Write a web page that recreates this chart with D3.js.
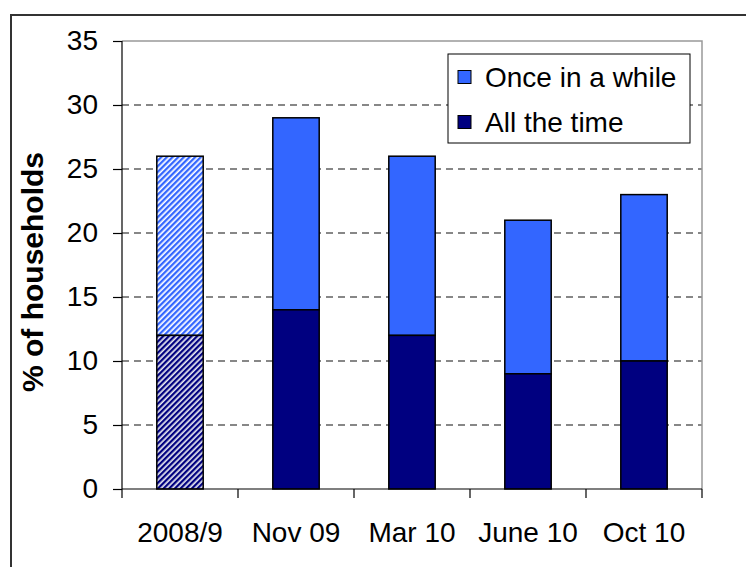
<!DOCTYPE html>
<html><head><meta charset="utf-8">
<script src="https://cdn.jsdelivr.net/npm/d3@7"></script>
<style>body{margin:0;background:#fff}svg{display:block}text{font-family:Arial,"Liberation Sans",sans-serif}</style>
</head><body>
<svg id="c" width="746" height="567"></svg>
<script>
const categories = ["2008/9", "Nov 09", "Mar 10", "June 10", "Oct 10"];
const allTheTime = [12, 14, 12, 9, 10];
const onceInAWhile = [14, 15, 14, 12, 13];
const yTicks = [0, 5, 10, 15, 20, 25, 30, 35];
const seriesNames = ["Once in a while", "All the time"];
const hatched = [true, false, false, false, false];

const svg = d3.select("#c");
const L = 122, R = 702, T = 41, B = 489;
const x = d3.scaleBand().domain(categories).range([L, R]).paddingInner(0.6).paddingOuter(0.3);
const xb = d3.scaleBand().domain(categories).range([L, R]);
const y = d3.scaleLinear().domain([0, 35]).range([B, T]);

const defs = svg.append("defs");
function hatch(id, col, bg) {
  const p = defs.append("pattern").attr("id", id).attr("patternUnits", "userSpaceOnUse")
    .attr("width", 4).attr("height", 4).attr("patternTransform", "rotate(45)");
  p.append("rect").attr("width", 4).attr("height", 4).attr("fill", bg);
  p.append("rect").attr("width", 2.3).attr("height", 4).attr("fill", col);
}
hatch("hLight", "#3366FF", "#ffffff");
hatch("hDark", "#000080", "#e8e8f0");

// outer border
svg.append("rect").attr("x", 11).attr("y", 15).attr("width", 800).attr("height", 600)
  .attr("fill", "none").attr("stroke", "#333").attr("stroke-width", 2);

// gridlines
svg.append("g").selectAll("line").data(yTicks.filter(v => v > 0 && v < 35)).join("line")
  .attr("x1", L).attr("x2", R).attr("y1", d => y(d)).attr("y2", d => y(d))
  .attr("stroke", "#111").attr("stroke-width", 1.1).attr("stroke-dasharray", "7,5");
// plot border top/right
svg.append("path").attr("d", `M${L},${y(35)}H${R}V${B}`).attr("fill", "none").attr("stroke", "#999").attr("stroke-width", 1.5);

// bars
const data = categories.map((c, i) => ({c, a: allTheTime[i], o: onceInAWhile[i], h: hatched[i]}));
const g = svg.append("g");
g.selectAll(".bo").data(data).join("rect")
  .attr("x", d => x(d.c)).attr("width", x.bandwidth())
  .attr("y", d => y(d.a + d.o)).attr("height", d => y(d.a) - y(d.a + d.o))
  .attr("fill", d => d.h ? "url(#hLight)" : "#3366FF").attr("stroke", "#000").attr("stroke-width", 1.5);
g.selectAll(".ba").data(data).join("rect")
  .attr("x", d => x(d.c)).attr("width", x.bandwidth())
  .attr("y", d => y(d.a)).attr("height", d => y(0) - y(d.a))
  .attr("fill", d => d.h ? "url(#hDark)" : "#000080").attr("stroke", "#000").attr("stroke-width", 1.5);

// y axis
const yAxis = d3.axisLeft(y).tickValues(yTicks).tickSize(9).tickPadding(15);
const ya = svg.append("g").attr("transform", `translate(${L},0)`).call(yAxis);
ya.select(".domain").attr("d", `M0,${B}V${T}`).attr("stroke", "#000").attr("stroke-width", 1.2);
ya.selectAll(".tick line").attr("stroke", "#000").attr("stroke-width", 1.2);
ya.selectAll("text").attr("font-size", 28).attr("fill", "#000").attr("font-family", "Arial, 'Liberation Sans', sans-serif");

// x axis
const xa = svg.append("g").attr("transform", `translate(0,${B})`);
xa.append("line").attr("x1", L).attr("x2", R).attr("stroke", "#000").attr("stroke-width", 1.2);
xa.selectAll(".t").data(categories.concat(["__end"])).join("line")
  .attr("x1", (d, i) => i < categories.length ? xb(d) : R).attr("x2", (d, i) => i < categories.length ? xb(d) : R)
  .attr("y1", 0).attr("y2", 9).attr("stroke", "#000").attr("stroke-width", 1.2);
xa.selectAll("text").data(categories).join("text")
  .attr("x", d => xb(d) + xb.bandwidth() / 2).attr("y", 53).attr("text-anchor", "middle")
  .attr("font-size", 28).attr("fill", "#000").text(d => d);

// y label
svg.append("text").attr("transform", `translate(43,${(T + B) / 2 + 7}) rotate(-90)`)
  .attr("text-anchor", "middle").attr("font-size", 30).attr("font-weight", "bold").attr("fill", "#000")
  .text("% of households");

// legend
const lg = svg.append("g");
lg.append("rect").attr("x", 448).attr("y", 54).attr("width", 242).attr("height", 89)
  .attr("fill", "#fff").attr("stroke", "#000").attr("stroke-width", 1);
const lcol = ["#3366FF", "#000080"];
seriesNames.forEach((n, i) => {
  const cy = 77 + i * 45;
  lg.append("rect").attr("x", 458).attr("y", cy - 6.5).attr("width", 13).attr("height", 13)
    .attr("fill", lcol[i]).attr("stroke", "#000").attr("stroke-width", 1);
  lg.append("text").attr("x", 485).attr("y", cy + 10).attr("font-size", 28).attr("fill", "#000").text(n);
});
</script>
</body></html>
